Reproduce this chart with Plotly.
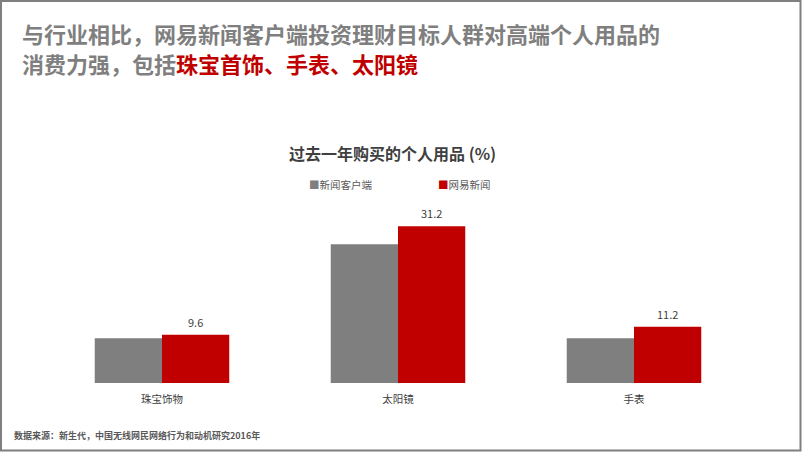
import plotly.graph_objects as go

# ---- data ----
categories = ["珠宝饰物", "太阳镜", "手表"]
series_names = ["新闻客户端", "网易新闻"]
industry_vals = [8.9, 27.6, 8.9]
netease_vals = [9.6, 31.2, 11.2]

title_line1 = "与行业相比，网易新闻客户端投资理财目标人群对高端个人用品的"
title_line2a = "消费力强，包括"
title_line2b = "珠宝首饰、手表、太阳镜"
chart_title = "过去一年购买的个人用品 (%)"
source_text = "数据来源：新生代，中国无线网民网络行为和动机研究2016年"

GRAY = "#7f7f7f"
RED = "#c00000"
FONT = "Noto Sans CJK SC"

W, H = 802, 452
ML, MR, MT, MB = 44, 50, 182, 69
PW, PH = W - ML - MR, H - MT - MB


def px(x):
    return (x - ML) / PW


def py(y):
    return (H - MB - y) / PH


fig = go.Figure()
fig.add_trace(go.Bar(x=categories, y=industry_vals, name=series_names[0],
                     marker=dict(color=GRAY, line=dict(width=0)), showlegend=False,
                     hoverinfo="skip"))
fig.add_trace(go.Bar(x=categories, y=netease_vals, name=series_names[1],
                     marker=dict(color=RED, line=dict(width=0)), showlegend=False,
                     hoverinfo="skip"))

annotations = []
# value labels above red bars
bargap = 0.43
bar_w_px = PW / len(categories) * (1 - bargap) / 2
for c, v in zip(categories, netease_vals):
    annotations.append(dict(x=c, y=v, xref="x", yref="y", text=f"{v:.1f}",
                            showarrow=False, xshift=bar_w_px / 2, yshift=13,
                            yanchor="middle",
                            font=dict(family=FONT, size=11, color="#404040")))

# headline
annotations.append(dict(x=px(20), y=py(33), xref="paper", yref="paper",
                        text=f"<b>{title_line1}</b>", showarrow=False,
                        xanchor="left", yanchor="middle",
                        font=dict(family=FONT, size=22, color=GRAY)))
annotations.append(dict(x=px(20), y=py(63), xref="paper", yref="paper",
                        text=f"<b>{title_line2a}<span style='color:{RED}'>{title_line2b}</span></b>",
                        showarrow=False, xanchor="left", yanchor="middle",
                        font=dict(family=FONT, size=22, color=GRAY)))
# chart title
annotations.append(dict(x=px(392), y=py(153), xref="paper", yref="paper",
                        text=f"<b>{chart_title}</b>", showarrow=False,
                        xanchor="center", yanchor="middle",
                        font=dict(family=FONT, size=16, color="#404040")))
# legend
for name, col, lx in zip(series_names, [GRAY, RED], [307, 436]):
    annotations.append(dict(x=px(lx), y=py(184), xref="paper", yref="paper",
                            text=f"<span style='color:{col}'>■</span>{name}",
                            showarrow=False, xanchor="left", yanchor="middle",
                            font=dict(family=FONT, size=10.5, color="#595959")))
# source
annotations.append(dict(x=px(12), y=py(435), xref="paper", yref="paper",
                        text=f"<b>{source_text}</b>", showarrow=False,
                        xanchor="left", yanchor="middle",
                        font=dict(family=FONT, size=9, color="#595959")))

fig.update_layout(
    width=W, height=H,
    margin=dict(l=ML, r=MR, t=MT, b=MB, pad=0),
    paper_bgcolor="white", plot_bgcolor="white",
    barmode="group", bargap=bargap, bargroupgap=0,
    showlegend=False,
    xaxis=dict(showgrid=False, zeroline=False, showline=False, ticks="",
               ticklabelstandoff=8,
               tickfont=dict(family=FONT, size=10.5, color="#404040"),
               fixedrange=True),
    yaxis=dict(range=[0, 40], showgrid=False, zeroline=False, showline=False,
               showticklabels=False, fixedrange=True),
    annotations=annotations,
    shapes=[dict(type="rect", xref="paper", yref="paper",
                 x0=px(1), x1=px(800.5), y0=py(1), y1=py(450.5),
                 line=dict(color=GRAY, width=2), fillcolor="rgba(0,0,0,0)",
                 layer="above")],
)

fig.write_html("out.html", config={"displayModeBar": False})

# remove the browser's default page margin so the figure sits at (0, 0)
with open("out.html", encoding="utf-8") as f:
    html = f.read()
html = html.replace("<body>", "<body style=\"margin:0;padding:0;overflow:hidden\">", 1)
with open("out.html", "w", encoding="utf-8") as f:
    f.write(html)
